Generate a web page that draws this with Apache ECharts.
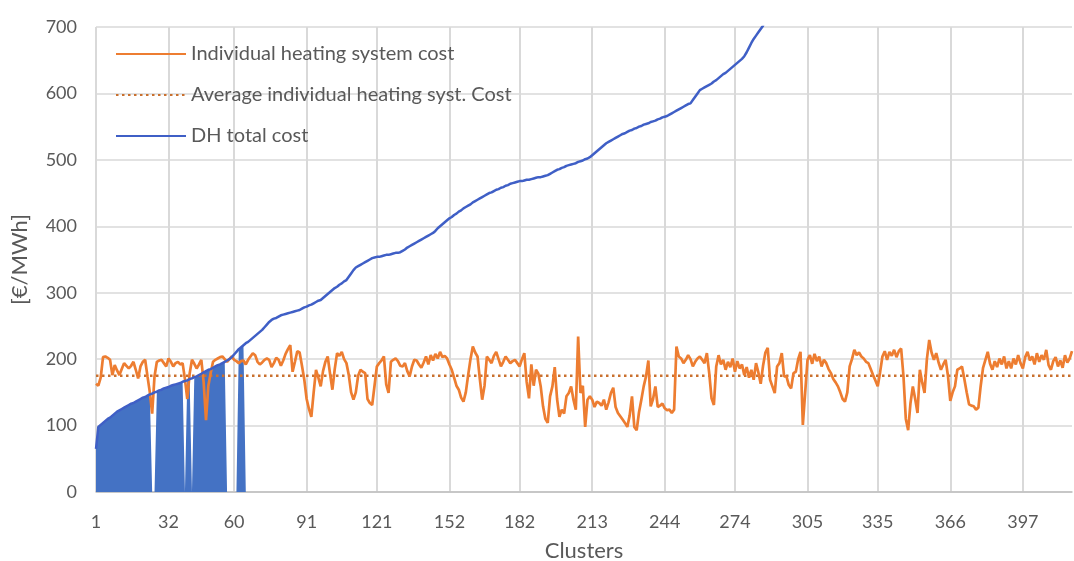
<!DOCTYPE html>
<html>
<head>
<meta charset="utf-8">
<script src="https://cdn.jsdelivr.net/npm/echarts@6/dist/echarts.min.js"></script>
<style>
  html, body { margin: 0; padding: 0; background: #fff; }
  #chart { width: 1074px; height: 561px; }
</style>
</head>
<body>
<div id="chart"></div>
<script>
    var tickLabels = [1, 32, 60, 91, 121, 152, 182, 213, 244, 274, 305, 335, 366, 397];

    var individualCost = [
        163, 160, 172, 203, 204, 202, 199, 176, 191, 183,
        176, 185, 194, 190, 186, 190, 196, 184, 171, 189,
        196, 199, 174, 150, 118, 174, 196, 198, 199, 194,
        189, 201, 196, 189, 194, 196, 192, 194, 170, 140,
        178, 199, 193, 186, 192, 199, 165, 108, 160, 179,
        196, 199, 201, 203, 204, 200, 196, 200, 204, 199,
        197, 194, 197, 198, 192, 199, 204, 209, 206, 196,
        192, 195, 199, 201, 199, 188, 194, 202, 199, 190,
        198, 208, 215, 221, 181, 196, 212, 210, 190, 169,
        140, 125, 113, 150, 184, 172, 159, 182, 196, 204,
        178, 154, 185, 209, 205, 211, 200, 194, 176, 150,
        139, 150, 175, 184, 181, 179, 140, 134, 131, 160,
        189, 194, 198, 204, 162, 149, 196, 199, 201, 197,
        190, 189, 194, 182, 174, 189, 199, 198, 192, 187,
        195, 204, 192, 206, 198, 208, 201, 211, 203, 205,
        201, 192, 184, 172, 160, 154, 142, 136, 150, 176,
        200, 219, 210, 204, 170, 139, 160, 204, 199, 194,
        205, 211, 200, 189, 196, 204, 199, 194, 197, 199,
        194, 189, 200, 209, 166, 141, 192, 160, 184, 178,
        159, 129, 110, 104, 144, 159, 188, 140, 113, 124,
        118, 144, 149, 159, 139, 124, 234, 149, 160, 98,
        139, 144, 139, 128, 136, 134, 130, 139, 124, 135,
        149, 157, 128, 119, 114, 109, 104, 98, 115, 144,
        98, 93, 120, 139, 159, 174, 198, 129, 140, 159,
        128, 130, 133, 126, 123, 124, 119, 124, 219, 204,
        201, 194, 199, 206, 200, 189, 196, 201, 204, 199,
        194, 209, 179, 141, 131, 189, 206, 192, 199, 184,
        196, 188, 201, 181, 197, 186, 192, 176, 188, 172,
        184, 169, 194, 180, 163, 190, 210, 217, 169, 159,
        149, 189, 194, 209, 174, 174, 161, 156, 179, 181,
        200, 211, 101, 150, 199, 206, 193, 208, 197, 204,
        189, 199, 194, 185, 179, 170, 165, 159, 150, 140,
        136, 150, 189, 200, 214, 206, 210, 204, 201, 196,
        194, 185, 176, 168, 159, 180, 204, 212, 199, 211,
        205, 214, 203, 212, 216, 174, 110, 93, 134, 159,
        140, 119, 184, 165, 149, 200, 229, 210, 199, 209,
        195, 184, 192, 199, 175, 137, 150, 159, 184, 186,
        189, 170, 150, 132, 130, 129, 124, 127, 160, 187,
        199, 211, 193, 184, 197, 188, 201, 192, 204, 186,
        197, 186, 201, 192, 206, 194, 186, 203, 211, 198,
        204, 192, 209, 196, 206, 199, 214, 191, 184, 197,
        203, 189, 198, 187, 206, 195, 201, 212
    ];

    var averageCost = 175;

    var dhTotalCost = [
        65, 98, 101, 104, 107, 110, 112, 115, 118, 121,
        123, 125, 127, 129, 131, 133, 134, 136, 138, 140,
        142, 143, 145, 147, 148, 150, 151, 153, 154, 156,
        157, 158, 160, 161, 162, 163, 164, 166, 167, 168,
        170, 171, 173, 174, 176, 178, 180, 182, 184, 185,
        187, 189, 191, 192, 194, 196, 198, 200, 203, 207,
        211, 215, 218, 221, 224, 226, 229, 232, 235, 238,
        241, 244, 248, 252, 256, 259, 261, 262, 264, 266,
        267, 268, 269, 270, 271, 272, 273, 274, 276, 278,
        279, 281, 282, 284, 286, 288, 289, 292, 295, 298,
        301, 304, 307, 309, 312, 314, 317, 319, 324, 329,
        334, 338, 340, 342, 344, 346, 348, 350, 352, 353,
        354, 354, 355, 356, 357, 357, 358, 359, 360, 360,
        361, 363, 365, 368, 370, 372, 374, 376, 378, 380,
        382, 384, 386, 388, 390, 393, 397, 400, 403, 406,
        409, 412, 414, 417, 419, 422, 424, 427, 429, 431,
        433, 436, 438, 440, 442, 444, 446, 448, 450, 451,
        453, 455, 456, 458, 459, 461, 462, 464, 465, 466,
        467, 468, 468, 469, 470, 470, 471, 472, 473, 474,
        474, 475, 476, 477, 479, 481, 483, 485, 486, 488,
        489, 491, 492, 493, 494, 495, 497, 498, 499, 501,
        502, 504, 507, 510, 513, 516, 519, 522, 525, 527,
        529, 531, 533, 535, 537, 539, 540, 542, 544, 545,
        547, 548, 550, 551, 553, 554, 555, 557, 558, 559,
        561, 562, 564, 565, 566, 568, 570, 572, 574, 576,
        578, 580, 582, 584, 585, 590, 595, 600, 605, 607,
        609, 611, 613, 615, 618, 620, 623, 626, 629, 631,
        634, 637, 640, 643, 646, 649, 652, 656, 662, 669,
        676, 682, 687, 692, 697, 702, 712
    ];

    // clusters where the DH area is filled, and the gaps in it
    var dhFillLast = 64;
    var dhFillGaps = [25, 26, 39, 42, 57, 58, 59, 60, 61];

    var clusters = [];
    for (var i = 1; i <= individualCost.length; i++) clusters.push(String(i));

    var dhFill = [];
    for (var c = 1; c <= dhFillLast + 1; c++) {
        if (c > dhFillLast || dhFillGaps.indexOf(c) >= 0) dhFill.push(0);
        else dhFill.push(dhTotalCost[c - 1]);
    }

    var isTick = function (index, value) {
        return tickLabels.indexOf(Number(value)) >= 0;
    };

    var textColor = '#595959';
    var font = 'Lato';

    var chart = echarts.init(document.getElementById('chart'));
    var option = {
        animation: false,
        grid: { left: 96, right: 2, top: 27, bottom: 69, outerBoundsMode: 'none' },
        legend: {
            data: ['Individual heating system cost', 'Average individual heating syst. Cost', 'DH total cost'],
            orient: 'vertical',
            left: 110,
            top: 39,
            itemWidth: 70,
            itemHeight: 14,
            itemGap: 21,
            itemStyle: { opacity: 0 },
            textStyle: { color: textColor, fontSize: 20, fontFamily: font }
        },
        xAxis: {
            type: 'category',
            data: clusters,
            boundaryGap: false,
            name: 'Clusters',
            nameLocation: 'middle',
            nameGap: 48,
            nameTextStyle: { color: textColor, fontSize: 22, fontFamily: font },
            axisLine: { lineStyle: { color: '#bfbfbf', width: 1.5 } },
            axisTick: { show: false },
            axisLabel: { interval: isTick, color: textColor, fontSize: 18, fontFamily: font, margin: 21 },
            splitLine: { show: true, interval: isTick, lineStyle: { color: '#d9d9d9', width: 2 } }
        },
        yAxis: {
            type: 'value',
            min: 0,
            max: 700,
            interval: 100,
            name: '[€/MWh]',
            nameLocation: 'middle',
            nameGap: 65,
            nameTextStyle: { color: textColor, fontSize: 22, fontFamily: font },
            axisLine: { show: false },
            axisTick: { show: false },
            axisLabel: { color: textColor, fontSize: 18, fontFamily: font, margin: 19 },
            splitLine: { lineStyle: { color: '#d9d9d9', width: 1.5 } }
        },
        series: [
            {
                name: 'DH fill',
                type: 'line',
                data: dhFill,
                symbol: 'none',
                lineStyle: { width: 0 },
                areaStyle: { color: '#4472C4', opacity: 1 },
                z: 1
            },
            {
                name: 'Average individual heating syst. Cost',
                type: 'line',
                data: [[clusters[0], averageCost], [clusters[clusters.length - 1], averageCost]],
                symbol: 'none',
                color: '#C9702E',
                lineStyle: { color: '#C9702E', width: 2.5, type: [2.5, 3.5] },
                z: 2
            },
            {
                name: 'Individual heating system cost',
                type: 'line',
                data: individualCost,
                symbol: 'none',
                color: '#ED7D31',
                lineStyle: { color: '#ED7D31', width: 2.7 },
                z: 3
            },
            {
                name: 'DH total cost',
                type: 'line',
                data: dhTotalCost,
                symbol: 'none',
                color: '#3F5FC6',
                lineStyle: { color: '#3F5FC6', width: 2.5 },
                z: 4
            }
        ]
    };
    chart.setOption(option);
</script>
</body>
</html>
